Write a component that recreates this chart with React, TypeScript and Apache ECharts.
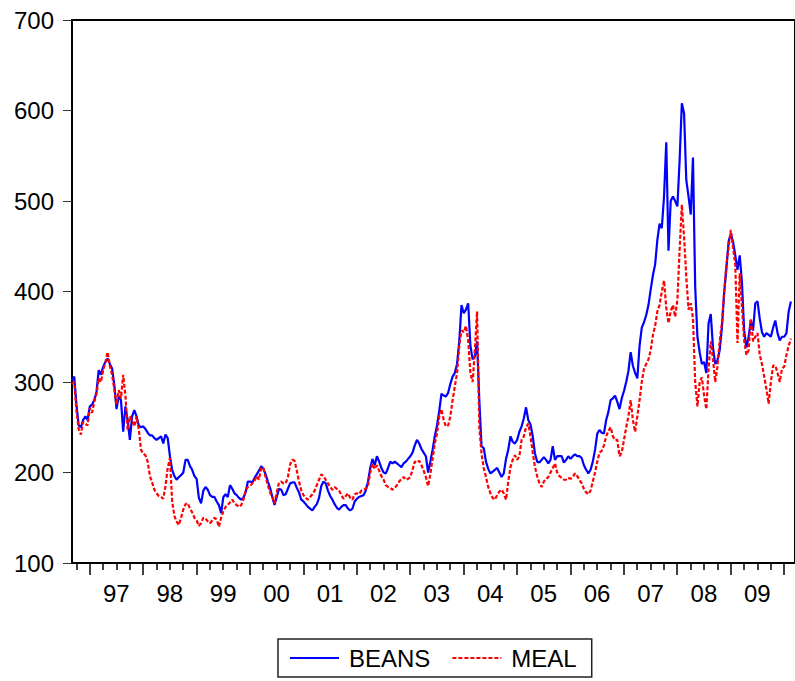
import React, { useEffect, useRef } from "react";
import * as echarts from "echarts";

// Semi-monthly observations, starting Sep 1996
const START_YEAR = 1996.67;
const STEP = 1 / 24;

const beans: number[] = [
  // 1996 (Sep-Dec)
  302, 306, 275, 252, 250, 258, 262, 258,
  // 1997
  273, 275, 280, 289, 313, 308, 317, 322, 326, 320, 315, 297, 270, 284, 280, 245, 273, 258, 236, 262, 269, 262, 252, 250,
  // 1998
  251, 248, 244, 241, 241, 238, 236, 238, 240, 232, 242, 238, 218, 203, 196, 192, 195, 197, 200, 214, 214, 207, 203, 196,
  // 1999
  193, 172, 166, 180, 184, 181, 175, 173, 173, 168, 164, 155, 173, 176, 173, 186, 182, 177, 175, 172, 170, 172, 178, 190,
  // 2000
  190, 189, 194, 198, 202, 207, 204, 198, 190, 183, 173, 164, 173, 182, 181, 175, 176, 182, 188, 189, 189, 183, 178, 170,
  // 2001
  168, 165, 162, 160, 158, 162, 165, 172, 185, 190, 188, 180, 174, 170, 165, 161, 159, 162, 164, 164, 160, 158, 160, 168,
  // 2002
  171, 173, 174, 175, 180, 190, 205, 215, 208, 218, 212, 205, 200, 199, 205, 212, 210, 212, 210, 208, 206, 210, 212, 215,
  // 2003
  218, 222, 230, 236, 232, 226, 222, 218, 200, 212, 225, 240, 252, 268, 287, 285, 284, 288, 298, 306, 310, 320, 345, 385,
  // 2004
  376, 380, 387, 340, 325, 328, 345, 280, 229, 227, 212, 204, 199, 201, 203, 205, 200, 195, 199, 215, 225, 240, 234, 232,
  // 2005
  236, 245, 251, 260, 272, 258, 253, 240, 221, 212, 211, 214, 217, 214, 210, 214, 229, 214, 218, 218, 218, 211, 214, 218,
  // 2006
  215, 218, 220, 218, 218, 216, 208, 203, 199, 203, 212, 225, 243, 247, 244, 243, 258, 267, 280, 282, 285, 278, 270, 282,
  // 2007
  290, 300, 312, 333, 318, 310, 304, 340, 360, 366, 374, 385, 402, 418, 430, 457, 475, 470, 505, 565, 445, 500, 505, 500,
  // 2008
  494, 545, 608, 597, 523, 505, 485, 548, 405, 350, 333, 320, 322, 310, 365, 375, 338, 320, 324, 335, 360, 398, 425, 455,
  // 2009
  464, 455, 440, 424, 440, 410, 357, 338, 350, 368, 357, 387, 389, 370, 355, 350, 354, 352, 350, 360, 368, 354, 346, 350,
  // 2010 (Jan-Feb)
  350, 354, 378, 389,
];

const meal: number[] = [
  // 1996 (Sep-Dec)
  298, 300, 268, 248, 242, 256, 254, 252,
  // 1997
  271, 266, 278, 287, 304, 300, 313, 322, 333, 318, 308, 292, 275, 291, 282, 308, 285, 247, 262, 258, 251, 262, 248, 225,
  // 1998
  221, 219, 212, 196, 189, 181, 177, 174, 173, 171, 185, 205, 216, 168, 152, 146, 142, 150, 159, 165, 166, 160, 156, 150,
  // 1999
  147, 141, 144, 150, 149, 146, 144, 147, 150, 148, 140, 150, 157, 162, 164, 167, 170, 166, 164, 162, 164, 170, 180, 184,
  // 2000
  185, 188, 191, 196, 192, 205, 205, 195, 186, 178, 173, 166, 178, 189, 190, 188, 188, 195, 209, 214, 213, 202, 190, 180,
  // 2001
  175, 172, 170, 173, 176, 180, 186, 192, 198, 196, 192, 188, 184, 181, 184, 182, 180, 175, 171, 174, 177, 172, 170, 176,
  // 2002
  177, 176, 180, 181, 182, 186, 200, 210, 204, 208, 202, 196, 192, 186, 184, 183, 181, 183, 186, 190, 193, 195, 192, 193,
  // 2003
  195, 203, 212, 211, 213, 208, 202, 195, 185, 198, 215, 232, 243, 262, 270, 258, 251, 252, 262, 280, 295, 310, 340, 357,
  // 2004
  355, 362, 346, 310, 300, 335, 378, 250, 221, 205, 195, 184, 177, 172, 170, 175, 179, 181, 177, 170, 190, 206, 214, 219,
  // 2005
  214, 218, 236, 240, 250, 254, 240, 222, 206, 196, 188, 184, 190, 193, 195, 200, 205, 210, 200, 196, 194, 192, 192, 194,
  // 2006
  193, 195, 199, 196, 192, 188, 182, 178, 176, 180, 190, 200, 212, 222, 224, 230, 240, 246, 250, 240, 236, 236, 218, 222,
  // 2007
  236, 250, 262, 280, 258, 245, 262, 280, 300, 315, 320, 325, 335, 352, 362, 378, 385, 400, 412, 382, 365, 378, 385, 372,
  // 2008
  391, 446, 496, 460, 416, 380, 387, 370, 300, 273, 300, 305, 285, 270, 315, 345, 325, 300, 317, 345, 365, 400, 430, 449,
  // 2009
  468, 449, 430, 343, 420, 383, 346, 330, 335, 370, 345, 350, 354, 330, 320, 306, 292, 276, 300, 318, 318, 310, 300, 315,
  // 2010 (Jan-Feb)
  317, 330, 340, 348,
];

const yearTicks: number[] = [1997, 1998, 1999, 2000, 2001, 2002, 2003, 2004, 2005, 2006, 2007, 2008, 2009, 2010];
const yearLabels: string[] = ["97", "98", "99", "00", "01", "02", "03", "04", "05", "06", "07", "08", "09"];
const yTicks: number[] = [100, 200, 300, 400, 500, 600, 700];
const seriesNames: string[] = ["BEANS", "MEAL"];

const X_MIN = 1996.67;
const X_MAX = 2010.205;

const FONT = "'Liberation Sans', Arial, Helvetica, sans-serif";

// legend icons: a solid stroke and a dashed stroke (49 x 2)
const SOLID_ICON = "path://M0,0h49v2h-49z";
const DASH_ICON =
  "path://M0,0h4v2h-4z M6,0h4v2h-4z M12,0h4v2h-4z M18,0h4v2h-4z M24,0h4v2h-4z M30,0h4v2h-4z M36,0h4v2h-4z M42,0h4v2h-4z M48,0h1v2h-1z";

export default function App() {
  const ref = useRef<HTMLDivElement>(null);

  useEffect(() => {
    if (!ref.current) return;
    const chart = echarts.init(ref.current, null, { renderer: "svg" });

    const toPairs = (arr: number[]) => arr.map((v, i) => [START_YEAR + i * STEP, v]);

    const quarterTicks: number[] = [];
    for (let y = 1996; y <= 2010; y++) {
      for (const q of [0.25, 0.5, 0.75]) {
        const t = y + q;
        if (t >= X_MIN && t <= X_MAX) quarterTicks.push(t);
      }
    }
    const labelPos = yearLabels.map((_, i) => yearTicks[i] + 0.5);

    chart.setOption({
      animation: false,
      backgroundColor: "#ffffff",
      textStyle: { fontFamily: FONT },
      grid: {
        left: 72,
        right: -3,
        top: 20,
        bottom: 118,
        show: true,
        borderColor: "#000",
        borderWidth: 2,
        containLabel: false,
      },
      legend: {
        left: 278,
        top: 639,
        orient: "horizontal",
        itemWidth: 49,
        itemHeight: 2,
        itemGap: 22,
        padding: [7, 15, 7, 12],
        borderColor: "#222",
        borderWidth: 1.5,
        textStyle: { fontSize: 24, color: "#000", fontFamily: FONT, padding: [0, 0, 0, 5] },
        data: [
          { name: seriesNames[0], icon: SOLID_ICON, itemStyle: { color: "#0000ff" } },
          { name: seriesNames[1], icon: DASH_ICON, itemStyle: { color: "#ff0000" } },
        ],
      },
      xAxis: [
        {
          type: "value",
          min: X_MIN,
          max: X_MAX,
          splitLine: { show: false },
          axisLine: { show: true, onZero: false, lineStyle: { color: "#000", width: 2 } },
          axisTick: { show: true, length: 12, customValues: yearTicks, lineStyle: { color: "#000", width: 1.5 } },
          axisLabel: {
            show: true,
            customValues: labelPos,
            fontSize: 24,
            color: "#000",
            margin: 18,
            fontFamily: FONT,
            formatter: (v: number) => {
              const idx = labelPos.findIndex((p) => Math.abs(p - v) < 0.01);
              return idx >= 0 ? yearLabels[idx] : "";
            },
          },
        },
        {
          type: "value",
          min: X_MIN,
          max: X_MAX,
          position: "bottom",
          splitLine: { show: false },
          axisLine: { show: false, onZero: false },
          axisTick: { show: true, length: 7, customValues: quarterTicks, lineStyle: { color: "#000", width: 1.5 } },
          axisLabel: { show: false },
        },
      ],
      yAxis: {
        type: "value",
        min: 100,
        max: 700,
        interval: 100,
        splitLine: { show: false },
        axisLine: { show: true, onZero: false, lineStyle: { color: "#000", width: 2 } },
        axisTick: { show: true, length: 9, customValues: yTicks, lineStyle: { color: "#333", width: 1 } },
        axisLabel: { fontSize: 24, color: "#000", margin: 18, fontFamily: FONT },
      },
      series: [
        {
          name: seriesNames[0],
          type: "line",
          xAxisIndex: 0,
          data: toPairs(beans),
          symbol: "none",
          lineStyle: { color: "#0000ff", width: 2.2 },
          itemStyle: { color: "#0000ff" },
        },
        {
          name: seriesNames[1],
          type: "line",
          xAxisIndex: 0,
          data: toPairs(meal),
          symbol: "none",
          lineStyle: { color: "#ff0000", width: 2.2, type: [4, 2] },
          itemStyle: { color: "#ff0000" },
        },
      ],
    });

    return () => chart.dispose();
  }, []);

  return (
    <div
      ref={ref}
      style={{ position: "fixed", left: 0, top: 0, width: 795, height: 681, background: "#fff" }}
    />
  );
}
